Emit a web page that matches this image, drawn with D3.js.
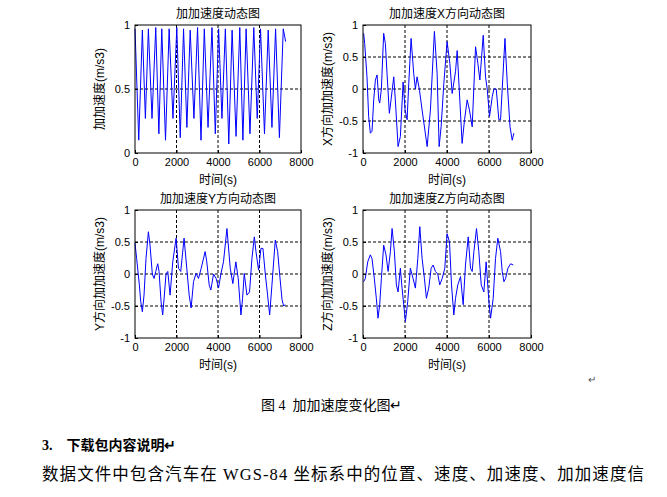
<!DOCTYPE html><html><head><meta charset="utf-8"><script src="https://cdn.jsdelivr.net/npm/d3@7"></script>
<style>body{margin:0;background:#fff}text{white-space:pre}</style></head><body><svg id="c" width="667" height="497"></svg><script>
const xTicks=[0,2000,4000,6000,8000];
const titles=["加加速度动态图","加加速度X方向动态图","加加速度Y方向动态图","加加速度Z方向动态图"];
const ylabels=["加加速度(m/s3)","X方向加加速度(m/s3)","Y方向加加速度(m/s3)","Z方向加加速度(m/s3)"];
const totT=[0,180,355,500,645,820,1000,1150,1290,1470,1645,1830,2015,2180,2340,2500,2660,2840,3015,3180,3340,3520,3710,3870,4030,4190,4355,4520,4680,4870,5050,5200,5355,5540,5725,5890,6050,6240,6420,6600,6775,6960,7145,7260];
const totV=[0.97,0.1,0.96,0.27,0.97,0.27,0.98,0.15,0.97,0.1,0.97,0.27,0.98,0.12,0.97,0.2,0.96,0.27,0.98,0.1,0.97,0.2,0.98,0.15,0.97,0.27,0.97,0.07,0.96,0.13,0.98,0.1,0.97,0.15,0.98,0.27,0.97,0.15,0.96,0.2,0.97,0.12,0.97,0.87];
const xT=[30,80,190,270,350,430,510,590,670,750,795,875,985,1065,1145,1255,1335,1465,1540,1670,1780,1910,2005,2100,2180,2290,2415,2495,2575,2690,2815,3055,3210,3400,3530,3625,3720,3850,4005,4135,4245,4405,4485,4610,4720,4835,4960,5070,5200,5360,5470,5565,5725,5835,5915,6025,6155,6235,6345,6470,6550,6760,6870,7000,7105,7185];
const xV=[0.87,0.71,0.19,-0.43,-0.69,-0.66,-0.17,0.14,0.22,-0.17,-0.22,0,0.87,0.71,0.24,-0.38,-0.17,0.19,-0.17,-0.9,-0.74,0.11,-0.33,-0.48,0.09,0.79,0.24,0,0.19,-0.02,-0.33,-0.9,-0.33,0.9,0.24,-0.9,-0.59,0.09,0.74,0.4,-0.07,0.27,0.6,-0.17,-0.85,-0.48,-0.17,-0.33,-0.59,0.66,0.4,0.14,0.84,0.19,0,-0.43,-0.12,0,0,-0.48,-0.48,0.79,0.09,-0.59,-0.8,-0.69];
const yT=[0,80,210,275,355,435,530,645,725,835,920,1000,1095,1160,1255,1335,1415,1495,1580,1690,1820,1980,2095,2205,2365,2495,2610,2705,2820,2945,3060,3190,3380,3460,3575,3655,3785,3910,4025,4140,4265,4430,4590,4715,4860,4975,5105,5185,5265,5395,5520,5635,5750,5830,5955,6070,6165,6280,6390,6490,6600,6760,6875,6970,7085,7165,7245];
const yV=[0.48,0.24,-0.17,-0.43,-0.59,-0.33,0.24,0.66,0.45,0,-0.07,0.04,0.16,0.04,-0.43,-0.64,-0.33,0,0.04,-0.33,0.19,0.56,0.09,0.04,0.56,0.09,-0.33,-0.53,-0.12,0.01,-0.07,0.09,0.35,0.19,-0.17,-0.25,0,-0.07,-0.22,0,0.19,0.71,0.09,-0.15,0.19,-0.07,-0.64,-0.38,0.01,-0.33,-0.28,0.24,0.58,0.35,0.06,0.4,0.4,0,-0.33,-0.64,-0.17,0.53,0.35,0,-0.4,-0.5,-0.48];
const zT=[30,110,225,350,430,540,635,715,795,875,985,1095,1195,1305,1385,1495,1590,1670,1780,1860,1940,2020,2130,2255,2385,2495,2610,2705,2815,2925,3020,3130,3245,3340,3450,3560,3655,3770,3895,4005,4120,4215,4325,4405,4515,4645,4770,4880,5010,5120,5200,5280,5405,5515,5630,5755,5865,5995,6075,6200,6310,6420,6550,6630,6710,6790,6900,7030,7155];
const zV=[-0.12,-0.07,0.19,0.3,0.24,-0.07,-0.38,-0.69,-0.48,-0.07,0.45,0.3,0.04,0.35,0.71,0.35,-0.17,-0.28,0.09,-0.22,-0.48,-0.74,-0.43,0.09,-0.07,-0.22,0.24,0.74,0.24,-0.07,-0.38,-0.22,0.09,0.14,0.04,0,-0.17,-0.07,0.09,0.63,0.5,-0.17,-0.64,-0.38,-0.17,-0.04,-0.48,0.14,0.58,0.09,0.04,0.35,0.71,0.35,-0.17,-0.28,0.19,-0.43,-0.69,-0.38,0.24,0.56,0.35,0.04,-0.12,-0.07,0.09,0.16,0.14];
const panels=[
 {t:totT,v:totV,x0:135,x1:301,y0:25,y1:153,dom:[0,1],ticks:[0,0.5,1],yl:100},
 {t:xT,v:xV,x0:363,x1:531,y0:25,y1:153,dom:[-1,1],ticks:[-1,-0.5,0,0.5,1],yl:328},
 {t:yT,v:yV,x0:135,x1:301,y0:210,y1:338,dom:[-1,1],ticks:[-1,-0.5,0,0.5,1],yl:100},
 {t:zT,v:zV,x0:363,x1:531,y0:210,y1:338,dom:[-1,1],ticks:[-1,-0.5,0,0.5,1],yl:328}];
const svg=d3.select("#c");const F="Arial, 'Liberation Sans', 'Noto Sans CJK SC'";
panels.forEach((p,i)=>{
 const x=d3.scaleLinear().domain([0,8000]).range([p.x0,p.x1]);
 const y=d3.scaleLinear().domain(p.dom).range([p.y1,p.y0]);
 const g=svg.append("g");
 xTicks.slice(1,-1).forEach(t=>g.append("line").attr("x1",x(t)).attr("x2",x(t)).attr("y1",p.y0).attr("y2",p.y1).attr("stroke","#000").attr("stroke-dasharray","3,2"));
 p.ticks.slice(1,-1).forEach(t=>g.append("line").attr("x1",p.x0).attr("x2",p.x1).attr("y1",y(t)).attr("y2",y(t)).attr("stroke","#000").attr("stroke-dasharray","3,2"));
 g.append("path").datum(p.t.map((t,k)=>[t,p.v[k]])).attr("d",d3.line().x(d=>x(d[0])).y(d=>y(d[1]))).attr("fill","none").attr("stroke","#0000ff").attr("stroke-width",1);
 g.append("g").attr("transform",`translate(0,${p.y1})`).call(d3.axisBottom(x).tickValues(xTicks).tickSize(-3).tickPadding(5).tickFormat(d3.format("d"))).call(a=>{a.select(".domain").remove();a.selectAll("text").attr("font-family",F).attr("font-size",11).attr("fill","#000")});
 g.append("g").attr("transform",`translate(${p.x0},0)`).call(d3.axisLeft(y).tickValues(p.ticks).tickSize(-3).tickPadding(5).tickFormat(d=>d)).call(a=>{a.select(".domain").remove();a.selectAll("text").attr("font-family",F).attr("font-size",11).attr("fill","#000")});
 g.append("rect").attr("x",p.x0).attr("y",p.y0).attr("width",p.x1-p.x0).attr("height",p.y1-p.y0).attr("fill","none").attr("stroke","#000");
 g.append("text").attr("x",(p.x0+p.x1)/2).attr("y",p.y0-7).attr("text-anchor","middle").attr("font-family",F).attr("font-size",12).text(titles[i]);
 g.append("text").attr("x",(p.x0+p.x1)/2).attr("y",p.y1+31).attr("text-anchor","middle").attr("font-family",F).attr("font-size",12).text("时间(s)");
 g.append("text").attr("transform",`translate(${p.yl+4},${(p.y0+p.y1)/2}) rotate(-90)`).attr("text-anchor","middle").attr("font-family",F).attr("font-size",12).text(ylabels[i]);
});
const S="'Liberation Serif','Noto Sans CJK SC',serif";
svg.append("text").attr("x",588).attr("y",383).attr("font-size",10).attr("fill","#555").text("↵");
svg.append("text").attr("x",261).attr("y",410).attr("font-family",S).attr("font-size",14).text("图 4  加加速度变化图↵");
svg.append("text").attr("x",42).attr("y",450).attr("font-family",S).attr("font-size",14).attr("font-weight","bold").text("3.    下载包内容说明↵");
svg.append("text").attr("x",42).attr("y",480).attr("font-family",S).attr("font-size",16.5).attr("textLength",602).attr("lengthAdjust","spacing").text("数据文件中包含汽车在 WGS-84 坐标系中的位置、速度、加速度、加加速度信");
</script></body></html>
